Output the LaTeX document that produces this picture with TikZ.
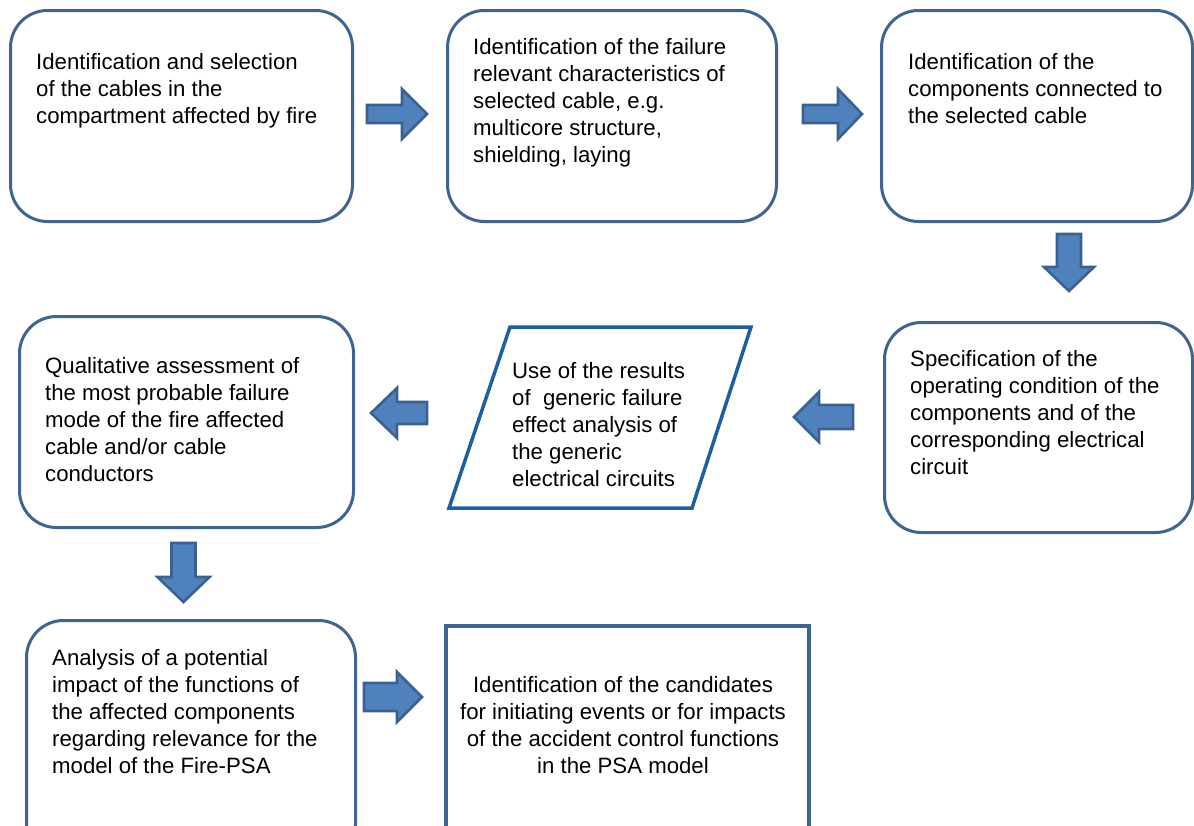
\documentclass[tikz,border=0pt]{standalone}
\usepackage{fontspec}
\setmainfont{Liberation Sans}
\usetikzlibrary{calc}

\definecolor{boxline}{HTML}{3E6592}
\definecolor{paraline}{HTML}{1F5E9F}
\definecolor{arrowfill}{HTML}{4F81BD}
\definecolor{arrowline}{HTML}{3A6191}

\tikzset{
  stepbox/.style={draw=boxline, line width=3pt, fill=white, rounded corners=37pt,
    anchor=north west, inner sep=0pt},
  endbox/.style={draw=boxline, line width=3.5pt, fill=white, anchor=north west, inner sep=0pt},
  para/.style={draw=paraline, line width=3.5pt, fill=white, line join=miter},
  label/.style={inner sep=0pt, font=\fontsize{22.2}{27}\selectfont, text=black},
  blockfill/.style={fill=arrowfill, draw=arrowline, line width=2.6pt, line join=miter},
  % block arrow: tail at origin, head base at #1, tip at #2, shaft half width #3, head half width #4
  pics/blockarrow/.style n args={4}{code={
    \draw[blockfill] (0,-#3) -- (#1,-#3) -- (#1,-#4) -- (#2,0) -- (#1,#4) -- (#1,#3) -- (0,#3) -- cycle;
  }}
}

\newcommand{\boxtext}[1]{\parbox[t]{340pt}{\raggedright #1}}

\begin{document}
\begin{tikzpicture}[x=1pt, y=-1pt]
  \useasboundingbox (0,0) rectangle (1194,825);
  \clip (0,0) rectangle (1194,825);
  \fill[white] (0,0) rectangle (1194,825);

  % process boxes
  \node[stepbox, minimum width=342pt, minimum height=211pt] (b1) at (9,9) {};
  \node[stepbox, minimum width=329pt, minimum height=211pt] (b2) at (446,9) {};
  \node[stepbox, minimum width=311pt, minimum height=211pt] (b3) at (880,9) {};
  \node[stepbox, minimum width=334pt, minimum height=211pt] (b4) at (18,315) {};
  \node[stepbox, minimum width=308pt, minimum height=210pt] (b6) at (883,321) {};
  \node[stepbox, minimum width=329pt, minimum height=240pt] (b7) at (25,619) {};
  \node[endbox, minimum width=363pt, minimum height=240pt] (b8) at (444,624) {};

  % data box (parallelogram)
  \draw[para] (510,327) coordinate (b5) -- (751,327) -- (692,508) -- (449,508) -- cycle;

  % box texts
  \node[label, anchor=base west] (t1) at (36,69) {\boxtext{Identification and selection\\of the cables in the\\compartment affected by fire}};
  \node[label, anchor=base west] (t2) at (473,54) {\boxtext{Identification of the failure\\relevant characteristics of\\selected cable, e.g.\\multicore structure,\\shielding, laying}};
  \node[label, anchor=base west] (t3) at (908,69) {\boxtext{Identification of the\\components connected to\\the selected cable}};
  \node[label, anchor=base west] (t4) at (45,373) {\boxtext{Qualitative assessment of\\the most probable failure\\mode of the fire affected\\cable and/or cable\\conductors}};
  \node[label, anchor=base west] (t5) at (512,378) {\boxtext{Use of the results\\of\ \ generic failure\\effect analysis of\\the generic\\electrical circuits}};
  \node[label, anchor=base west] (t6) at (910,366) {\boxtext{Specification of the\\operating condition of the\\components and of the\\corresponding electrical\\circuit}};
  \node[label, anchor=base west] (t7) at (52,665) {\boxtext{Analysis of a potential\\impact of the functions of\\the affected components\\regarding relevance for the\\model of the Fire-PSA}};
  \node[label, anchor=base] (t8) at (623,692) {\parbox[t]{360pt}{\centering Identification of the candidates\\for initiating events or for impacts\\of the accident control functions\\in the PSA model}};

  % block arrows between the steps
  \pic at (367,114) {blockarrow={35}{60}{9}{25}};
  \pic at (803,114) {blockarrow={35}{59}{9}{25}};
  \pic[rotate=-90] at (1069,234) {blockarrow={33}{57}{12}{25}};
  \pic[rotate=180] at (853,417) {blockarrow={34}{59}{12}{25}};
  \pic[rotate=180] at (427,413) {blockarrow={30}{56}{11}{25}};
  \pic[rotate=-90] at (183.5,543) {blockarrow={34}{59}{12}{26}};
  \pic at (364,697) {blockarrow={33}{58}{14}{25}};
\end{tikzpicture}
\end{document}
